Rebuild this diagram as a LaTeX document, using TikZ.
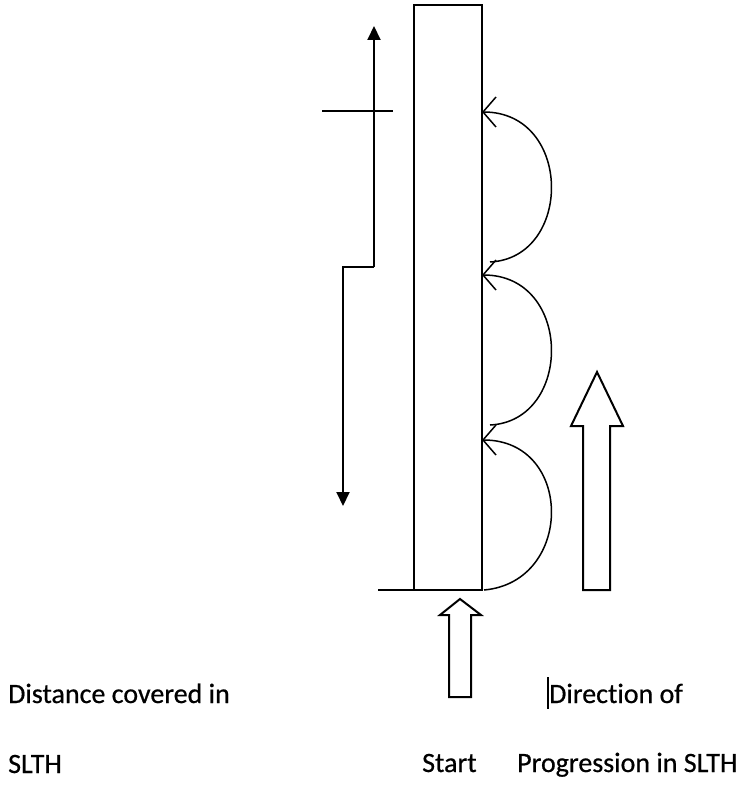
\documentclass[tikz,border=0pt]{standalone}
\usepackage{fontspec}
\setmainfont{Carlito}[Ligatures={NoCommon},FakeBold=0.6]
\usetikzlibrary{arrows.meta}
\begin{document}
\begin{tikzpicture}[x=1pt,y=-1pt,
  lbl/.style={anchor=base west,inner sep=0pt,font=\fontsize{28}{32}\selectfont},
  hop/.style={line width=1.5pt,-{Straight Barb[length=13pt,width=30pt,line width=1.5pt]}},
  meas/.style={line width=2pt,-{Triangle[length=14pt,width=13pt]}},
  hollow/.style={line width=2pt,fill=white,line join=miter}]
\useasboundingbox (0,0) rectangle (747,786);
% column
\coordinate (tl) at (414,5);
\coordinate (br) at (482,590);
\draw[line width=1.6pt] (tl) rectangle (br);
\draw[line width=2.6pt] (414,590) -- (482,590);
\coordinate (baseL) at (378,590);
\draw[line width=1.4pt] (baseL) -- (br);
% measurement line
\coordinate (mtop) at (374,26);
\coordinate (mstep1) at (374,267);
\coordinate (mstep2) at (343,267);
\coordinate (mbot) at (343,506);
\draw[meas] (mstep1) -- (mtop);
\draw[meas] (mstep1) -- (mstep2) -- (mbot);
\coordinate (tickL) at (322,111);
\coordinate (tickR) at (393,111);
\draw[line width=1.4pt] (tickL) -- (tickR);
% hops
\coordinate (h1s) at (484,590); \coordinate (h1e) at (482,440);
\coordinate (h2s) at (490,425); \coordinate (h2e) at (482,275);
\coordinate (h3s) at (490,262); \coordinate (h3e) at (482,112);
\draw[hop] (h1s) .. controls (574,582) and (574,440) .. (h1e);
\draw[hop] (h2s) .. controls (573,421) and (573,275) .. (h2e);
\draw[hop] (h3s) .. controls (573,258) and (573,112) .. (h3e);
% big hollow arrow
\draw[hollow] (583,590) -- (583,426) -- (571,426) -- (597,372) -- (623,426) -- (610,426) -- (610,590) -- cycle;
% start hollow arrow
\draw[hollow] (449,697) -- (449,615) -- (440,615) -- (460,599) -- (481,615) -- (471,615) -- (471,697) -- cycle;
% labels
\node[lbl] (d1) at (8,703) {Distance covered in};
\node[lbl] (d2) at (8,773) {SLTH};
\node[lbl] (st) at (422,772) {Start};
\node[lbl] (p1) at (549,703) {Direction of};
\node[lbl] (p2) at (517,772) {Progression in SLTH};
\coordinate (curT) at (548,677); \coordinate (curB) at (548,709);
\draw[line width=1.2pt] (curT) -- (curB);
\end{tikzpicture}
\end{document}
